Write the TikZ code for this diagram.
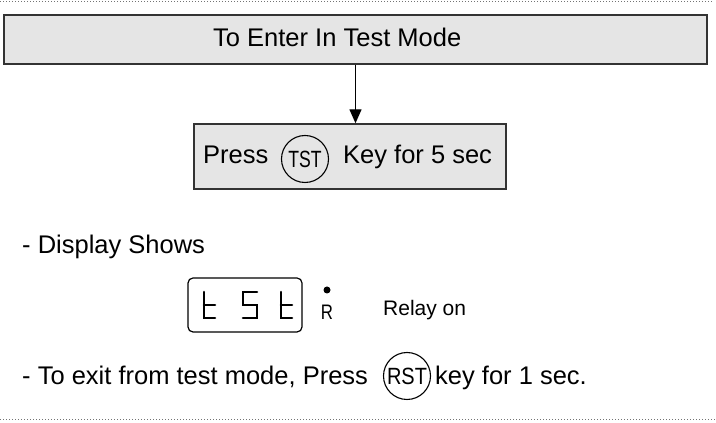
\documentclass[tikz,border=0pt]{standalone}
\usepackage{fontspec}
\setmainfont{Liberation Sans}
\usetikzlibrary{shapes,arrows.meta,positioning}
\definecolor{boxgray}{rgb}{.9,.9,.9}
\definecolor{edgegray}{rgb}{.2,.2,.2}
\def\Narrow#1#2{\scalebox{#1}[1]{#2}}

\begin{document}
\begin{tikzpicture}[% styles for the whole picture, 1 unit = 1 pixel of the sheet
			x=1pt,y=1pt,
			every node/.style={
				inner sep=0pt,
				font=\fontsize{25.5}{30}\selectfont	% main text size
			},
			every edge/.style={draw,line width=1.4pt,-{Triangle[length=14pt,width=12pt]}},
			txt/.style={anchor=base west},
			box/.style={rectangle,line width=1.4pt,draw=edgegray,fill=boxgray},
			ring/.style={circle,line width=1.1pt,draw=black,minimum size=47pt,font=\fontsize{23.5}{28}\selectfont},
			seg/.style={line width=2.6pt,line cap=round},
			sep/.style={draw=black!55,line width=1pt,dash pattern=on 1.2pt off 1.8pt}
		]
		\useasboundingbox (0,0) rectangle (716,423);
		\draw[sep] (0,421.5) -- (712,421.5);
		\draw[sep] (0,3) -- (716,3);

		% flow boxes
		\node[box,minimum width=703pt,minimum height=49pt](Enter) at (355.5,383.5){};
		\node[txt](E1) at (213,376){To Enter In Test Mode};
		\node[box,minimum width=312pt,minimum height=65pt](Press) at (350,266.5){};
		\node[txt](P1) at (203,259){Press};
		\node[ring](TST) at (305,264){\Narrow{0.75}{TST}};
		\node[txt](P2) at (343,259){Key for 5 sec};
		\path
		(Enter.south) edge [] (Enter.south |- Press.north)
		;

		% display
		\node[txt](Disp) at (22,169){- Display Shows};
		\node[rectangle,rounded corners=5pt,line width=1.2pt,draw=black,minimum width=114pt,minimum height=54pt](Seg) at (245,118){};
		\foreach \x in {204,281}{
			\draw[seg] (\x,131) -- (\x,105) -- (\x+11,105);
			\draw[seg] (\x,118) -- (\x+11,118);
		}
		\draw[seg] (257,131) -- (243,131) -- (243,118) -- (257,118) -- (257,105) -- (243,105);
		\fill (327,133) circle (3.5pt);
		\node[font=\fontsize{21}{25}\selectfont](Rel) at (327,110.5){\Narrow{0.8}{R}};
		\node[txt,font=\fontsize{21}{25}\selectfont](Ron) at (383,107){Relay on};

		% exit line
		\node[txt](X1) at (22,38){- To exit from test mode, Press};
		\node[ring](RST) at (407,47){\Narrow{0.85}{RST}};
		\node[txt](X2) at (435,38){key for 1 sec.};
	\end{tikzpicture}
\end{document}
